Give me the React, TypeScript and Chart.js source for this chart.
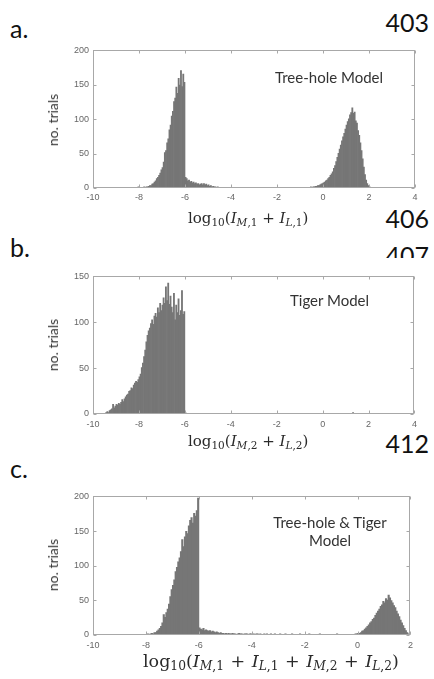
import React, { useEffect, useRef } from "react";
import { Chart, registerables } from "chart.js";

Chart.register(...registerables);

// ---------- data (histogram counts, bin width 0.05 in log10 units) ----------
const BIN = 0.05;

// Panel a: Tree-hole Model
const aXTicks = [-10, -8, -6, -4, -2, 0, 2, 4];
const aYTicks = [0, 50, 100, 150, 200];
const aLeftStart = -8.2;
const aLeftCounts = [
  0, 1, 0, 2, 1, 0, 1, 0, 2, 1, 2, 2, 3, 4, 4, 6, 7, 9, 11, 14,
  16, 19, 22, 27, 30, 38, 52, 55, 66, 72, 85, 92, 105, 112, 126, 131, 147, 138, 160, 150,
  171, 148, 166, 154, 16, 14, 11, 12, 9, 10, 8, 9, 7, 8, 6, 7, 5, 6, 7, 5,
  7, 5, 6, 4, 5, 3, 4, 2, 3, 2, 2, 1, 2, 1, 1, 1, 0, 1, 0, 1, 0, 1,
];
const aRightStart = -0.8;
const aRightCounts = [
  1, 0, 1, 1, 1, 2, 1, 2, 2, 3, 3, 4, 4, 5, 6, 7,
  8, 9, 11, 12, 14, 16, 19, 21, 24, 29, 33, 39, 45, 51, 57, 63, 69, 75, 80, 86,
  92, 97, 101, 107, 110, 117, 109, 111, 98, 95, 84, 77, 66, 55, 43, 31, 20, 12, 7, 4,
  2, 1, 1,
];

// Panel b: Tiger Model
const bXTicks = [-10, -8, -6, -4, -2, 0, 2, 4];
const bYTicks = [0, 50, 100, 150];
const bMainStart = -9.6;
const bMainCounts = [
  0, 1, 1, 2, 3, 2, 4, 5, 6, 11, 7, 9, 11, 10, 12, 11, 13, 16, 14, 17,
  19, 21, 22, 25, 26, 29, 28, 32, 34, 36, 35, 38, 41, 44, 51, 56, 63, 70, 79, 86,
  91, 94, 99, 103, 98, 107, 110, 106, 116, 111, 121, 113, 119, 127, 121, 139, 124, 143, 120, 129,
  117, 111, 132, 103, 119, 111, 126, 108, 113, 135, 109, 112,
];
const bTailStart = -6.0;
const bTailCounts = [2, 1, 1, 1, 0, 1, 0, 1, 0, 0, 1];
const bFarStart = 1.0;
const bFarCounts = [1, 0, 1, 1, 0, 1, 2, 1, 0, 1, 1, 0, 1, 0, 1, 1, 0, 1, 0, 1];

// Panel c: Tree-hole & Tiger Model
const cXTicks = [-10, -8, -6, -4, -2, 0, 2];
const cYTicks = [0, 50, 100, 150, 200];
const cLeftStart = -8.2;
const cLeftCounts = [
  0, 1, 0, 1, 1, 2, 1, 2, 3, 2, 4, 4, 6, 8, 10, 13, 18, 30, 26, 33,
  38, 45, 56, 66, 72, 80, 92, 98, 106, 112, 121, 138, 128, 142, 150, 147, 158, 166, 170, 162,
  176, 172, 180, 198, 11, 9, 8, 10, 7, 8, 7, 6, 7, 5, 6, 5, 4, 5, 4, 3,
  4, 3, 3, 2, 3,
];
const cTailStart = -4.95;
const cTailCounts = [
  2, 3, 2, 2, 3, 2, 2, 1, 2, 3, 2, 2, 1, 2, 2, 2, 1, 2, 2, 1,
  2, 1, 2, 2, 1, 2, 1, 1, 2, 1, 2, 1, 1, 2, 1, 1, 2, 1, 1, 1,
  2, 1, 1, 1, 2, 1, 1, 1, 1, 2, 1, 1, 1, 1, 1, 2, 1, 1, 1, 1,
  1, 1, 2, 1, 1, 1, 1, 1, 1, 1, 2, 1, 1, 1, 1, 1, 1, 1, 1, 1,
  1, 1, 1, 2, 1, 1, 1, 1, 1, 1, 1, 1, 1, 1, 1,
];
const cRightStart = -0.2;
const cRightCounts = [
  1, 1, 2, 2, 3, 3, 4, 6, 7, 9, 11, 13, 15, 18, 20, 23, 25, 29, 32, 35,
  38, 42, 44, 49, 47, 53, 51, 58, 54, 50, 47, 43, 40, 35, 31, 27, 22, 18, 14, 10,
  7, 4, 2, 1,
];

// ---------- helpers ----------
type Cluster = { start: number; counts: number[] };

function toPoints(clusters: Cluster[]) {
  const pts: { x: number; y: number }[] = [];
  clusters.forEach((c) =>
    c.counts.forEach((v, i) => {
      pts.push({ x: +(c.start + (i + 0.5) * BIN).toFixed(4), y: v });
    })
  );
  return pts;
}

const boxPlugin = {
  id: "matlabBox",
  afterDatasetsDraw(chart: any) {
    const { ctx, chartArea: a, scales } = chart;
    const xs = scales.x;
    const ys = scales.y;
    const L = Math.round(a.left) + 0.5;
    const R = Math.round(a.right) - 0.5;
    const T = Math.round(a.top) + 0.5;
    const B = Math.round(a.bottom) - 0.5;
    ctx.save();
    ctx.strokeStyle = "#a8a8a8";
    ctx.lineWidth = 1;
    ctx.beginPath();
    xs.ticks.forEach((t: any) => {
      const p = Math.round(xs.getPixelForValue(t.value)) + 0.5;
      ctx.moveTo(p, B);
      ctx.lineTo(p, B - 3);
      ctx.moveTo(p, T);
      ctx.lineTo(p, T + 3);
    });
    ys.ticks.forEach((t: any) => {
      const p = Math.round(ys.getPixelForValue(t.value)) + 0.5;
      ctx.moveTo(L, p);
      ctx.lineTo(L + 3, p);
      ctx.moveTo(R, p);
      ctx.lineTo(R - 3, p);
    });
    ctx.stroke();
    ctx.strokeRect(L, T, R - L, B - T);
    ctx.restore();
  },
};

type PanelProps = {
  left: number;
  top: number;
  width: number;
  height: number;
  yAxisW: number;
  padTop: number;
  padRight: number;
  xAxisH: number;
  xMin: number;
  xMax: number;
  xTicks: number[];
  yMax: number;
  yTicks: number[];
  clusters: Cluster[];
  xPad: number;
};

const BAR_COLOR = "#767676";

function Panel(p: PanelProps) {
  const ref = useRef<HTMLCanvasElement | null>(null);
  useEffect(() => {
    if (!ref.current) return;
    const tickFont = { family: '"Liberation Sans", Arial, sans-serif', size: 9 };
    const chart = new Chart(ref.current, {
      type: "bar",
      data: {
        datasets: [
          {
            data: toPoints(p.clusters) as any,
            backgroundColor: BAR_COLOR,
            borderWidth: 0,
            barPercentage: 1.6,
            categoryPercentage: 1,
            inflateAmount: 0,
          } as any,
        ],
      },
      options: {
        animation: false,
        responsive: false,
        devicePixelRatio: 1,
        layout: { padding: { left: 0, top: p.padTop, right: p.padRight, bottom: 0 } },
        plugins: { legend: { display: false }, tooltip: { enabled: false } },
        scales: {
          x: {
            type: "linear",
            min: p.xMin,
            max: p.xMax,
            offset: false,
            grid: { display: false, drawTicks: false },
            border: { display: false },
            afterBuildTicks: (s: any) => {
              s.ticks = p.xTicks.map((v) => ({ value: v }));
            },
            afterFit: (s: any) => {
              s.height = p.xAxisH;
            },
            ticks: {
              font: tickFont,
              color: "#666",
              padding: p.xPad,
              maxRotation: 0,
              autoSkip: false,
              callback: (v: any) => String(v),
            },
          },
          y: {
            type: "linear",
            min: 0,
            max: p.yMax,
            grid: { display: false, drawTicks: false },
            border: { display: false },
            afterBuildTicks: (s: any) => {
              s.ticks = p.yTicks.map((v) => ({ value: v }));
            },
            afterFit: (s: any) => {
              s.width = p.yAxisW;
            },
            ticks: {
              font: tickFont,
              color: "#666",
              padding: 4,
              autoSkip: false,
              callback: (v: any) => String(v),
            },
          },
        },
      },
      plugins: [boxPlugin],
    });
    return () => chart.destroy();
  }, []);
  return (
    <canvas
      ref={ref}
      width={p.width}
      height={p.height}
      style={{ position: "absolute", left: p.left, top: p.top, width: p.width, height: p.height }}
    />
  );
}

const bigFont: React.CSSProperties = {
  position: "absolute",
  fontFamily: "Lato, 'Open Sans', sans-serif",
  fontSize: 25,
  lineHeight: "25px",
  color: "#111",
  whiteSpace: "nowrap",
};

const innerFont: React.CSSProperties = {
  position: "absolute",
  fontFamily: "Lato, 'Open Sans', sans-serif",
  fontSize: 15,
  lineHeight: "18px",
  color: "#333",
  whiteSpace: "nowrap",
};

const mathFont: React.CSSProperties = {
  position: "absolute",
  fontFamily: "'DejaVu Serif', 'Liberation Serif', serif",
  lineHeight: 1,
  color: "#2a2a2a",
  whiteSpace: "nowrap",
};

const subStyle: React.CSSProperties = {
  fontSize: "0.7em",
  verticalAlign: "-0.28em",
  lineHeight: 0,
};

function Sub({ children }: { children: React.ReactNode }) {
  return <span style={subStyle}>{children}</span>;
}

function IL({ a, n }: { a: string; n: string }) {
  return (
    <>
      <i>I</i>
      <Sub>
        <i>{a}</i>,{n}
      </Sub>
    </>
  );
}

function YLabel({ cx, cy }: { cx: number; cy: number }) {
  return (
    <div
      style={{
        position: "absolute",
        left: cx,
        top: cy,
        transform: "translate(-50%, -50%) rotate(-90deg)",
        fontFamily: "Lato, 'Open Sans', sans-serif",
        fontSize: 14,
        lineHeight: "16px",
        color: "#3a3a3a",
        whiteSpace: "nowrap",
      }}
    >
      no. trials
    </div>
  );
}

export default function App() {
  return (
    <div
      style={{
        position: "absolute",
        left: 0,
        top: 0,
        width: 434,
        height: 679,
        background: "#fff",
        overflow: "hidden",
      }}
    >
      {/* panel letters and line numbers */}
      <div style={{ ...bigFont, left: 10, top: 16 }}>a.</div>
      <div style={{ ...bigFont, right: 5, top: 10 }}>403</div>
      <div style={{ ...bigFont, right: 5, top: 206 }}>406</div>
      <div style={{ ...bigFont, left: 10, top: 235 }}>b.</div>
      <div style={{ position: "absolute", right: 5, top: 243, height: 15, overflow: "hidden" }}>
        <div style={{ ...bigFont, position: "relative", right: 0, top: 0 }}>407</div>
      </div>
      <div style={{ ...bigFont, right: 5, top: 431 }}>412</div>
      <div style={{ ...bigFont, left: 10, top: 456 }}>c.</div>

      {/* panel a */}
      <Panel
        left={58}
        top={41}
        width={364}
        height={169}
        yAxisW={35}
        padTop={8}
        padRight={7}
        xAxisH={22}
        xMin={-10}
        xMax={4}
        xTicks={aXTicks}
        yMax={200}
        yTicks={aYTicks}
        xPad={4}
        clusters={[
          { start: aLeftStart, counts: aLeftCounts },
          { start: aRightStart, counts: aRightCounts },
        ]}
      />
      <YLabel cx={53} cy={120} />
      <div style={{ ...innerFont, left: 275, top: 68 }}>Tree-hole Model</div>
      <div style={{ ...mathFont, left: 188, top: 211, fontSize: 15 }}>
        log<Sub>10</Sub>(<IL a="M" n="1" /> + <IL a="L" n="1" />)
      </div>

      {/* panel b */}
      <Panel
        left={58}
        top={267}
        width={364}
        height={169}
        yAxisW={35}
        padTop={8}
        padRight={7}
        xAxisH={22}
        xMin={-10}
        xMax={4}
        xTicks={bXTicks}
        yMax={150}
        yTicks={bYTicks}
        xPad={5}
        clusters={[
          { start: bMainStart, counts: bMainCounts },
          { start: bTailStart, counts: bTailCounts },
          { start: bFarStart, counts: bFarCounts },
        ]}
      />
      <YLabel cx={53} cy={345} />
      <div style={{ ...innerFont, left: 290, top: 291 }}>Tiger Model</div>
      <div style={{ ...mathFont, left: 188, top: 434, fontSize: 15 }}>
        log<Sub>10</Sub>(<IL a="M" n="2" /> + <IL a="L" n="2" />)
      </div>

      {/* panel c */}
      <Panel
        left={58}
        top={487}
        width={360}
        height={170}
        yAxisW={35}
        padTop={8}
        padRight={7}
        xAxisH={22}
        xMin={-10}
        xMax={2}
        xTicks={cXTicks}
        yMax={200}
        yTicks={cYTicks}
        xPad={5}
        clusters={[
          { start: cLeftStart, counts: cLeftCounts },
          { start: cTailStart, counts: cTailCounts },
          { start: cRightStart, counts: cRightCounts },
        ]}
      />
      <YLabel cx={53} cy={565} />
      <div style={{ ...innerFont, left: 272, top: 513, width: 116, textAlign: "center" }}>
        Tree-hole &amp; Tiger
        <br />
        Model
      </div>
      <div style={{ ...mathFont, left: 143, top: 653, fontSize: 17.5, wordSpacing: 1 }}>
        log<Sub>10</Sub>(<IL a="M" n="1" /> + <IL a="L" n="1" /> + <IL a="M" n="2" /> + <IL a="L" n="2" />)
      </div>
    </div>
  );
}
